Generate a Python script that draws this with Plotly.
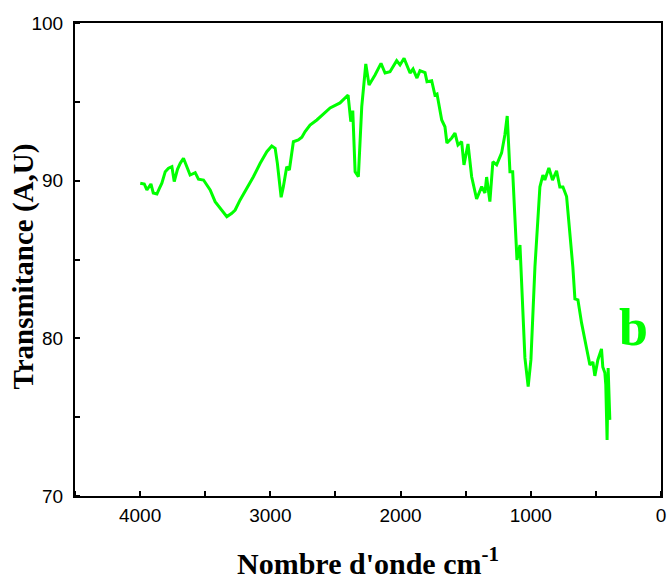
import plotly.graph_objects as go

wavenumber = [3999, 3968, 3948, 3917, 3899, 3871, 3851, 3833, 3807, 3782, 3756, 3738, 3713, 3692,
              3667, 3646, 3616, 3577, 3552, 3513, 3487, 3462, 3424, 3385, 3360, 3334, 3296, 3270,
              3232, 3180, 3130, 3078, 3027, 2989, 2963, 2946, 2930, 2917, 2900, 2874, 2854, 2835,
              2823, 2785, 2758, 2733, 2695, 2643, 2541, 2465, 2403, 2382, 2367, 2349, 2324, 2298,
              2267, 2242, 2196, 2150, 2119, 2081, 2030, 2004, 1973, 1927, 1904, 1874, 1851, 1812,
              1797, 1761, 1736, 1720, 1684, 1659, 1644, 1607, 1582, 1559, 1531, 1513, 1482, 1454,
              1416, 1377, 1352, 1339, 1314, 1291, 1262, 1224, 1199, 1181, 1160, 1139, 1106, 1083,
              1045, 1020, 999, 968, 930, 907, 892, 861, 833, 802, 777, 753, 725, 677, 661, 638,
              610, 572, 546, 523, 508, 485, 457, 447, 431, 424, 414, 406, 393]
transmittance = [89.84, 89.79, 89.41, 89.79, 89.22, 89.16, 89.52, 89.84, 90.57, 90.79, 90.89, 89.94,
                 90.72, 91.10, 91.42, 91.00, 90.36, 90.51, 90.09, 90.04, 89.73, 89.41, 88.67, 88.25,
                 87.93, 87.72, 87.93, 88.14, 88.78, 89.52, 90.25, 91.10, 91.84, 92.20, 92.05, 91.10,
                 89.62, 88.95, 89.62, 90.89, 90.68, 91.95, 92.47, 92.58, 92.75, 93.11, 93.53, 93.85,
                 94.61, 94.93, 95.43, 93.74, 94.44, 90.57, 90.25, 94.69, 97.40, 96.07, 96.70, 97.44,
                 96.83, 96.91, 97.61, 97.34, 97.76, 96.83, 97.08, 96.51, 96.98, 96.85, 96.28, 96.34,
                 95.43, 95.50, 93.85, 93.42, 92.39, 92.71, 93.02, 92.26, 92.47, 91.00, 92.33, 90.25,
                 88.84, 89.62, 89.22, 90.23, 88.67, 91.20, 91.00, 91.76, 92.90, 94.10, 90.57, 90.57,
                 84.97, 85.92, 78.76, 76.94, 78.63, 84.53, 89.60, 90.36, 90.04, 90.81, 90.04, 90.63,
                 89.60, 89.60, 88.99, 84.53, 82.50, 82.44, 80.98, 79.39, 78.31, 78.50, 77.62, 78.63,
                 79.33, 78.19, 77.81, 77.05, 73.56, 78.12, 74.83]

x_ticks = [4000, 3000, 2000, 1000, 0]
y_ticks = [70, 80, 90, 100]
sample_label = "b"
x_title = "Nombre d'onde cm<sup>-1</sup>"
y_title = "Transmitance (A,U)"

green = "rgb(0,255,0)"
serif = "Liberation Serif"
sans = "Liberation Sans"

fig = go.Figure()
fig.add_trace(go.Scatter(x=wavenumber, y=transmittance, mode="lines",
                         line=dict(color=green, width=3), showlegend=False,
                         hoverinfo="skip"))

fig.add_annotation(x=215, y=80.7, xref="x", yref="y", text="<b>" + sample_label + "</b>",
                   showarrow=False, font=dict(family=serif, size=52, color=green))

# y-axis title as a rotated annotation for precise placement
fig.add_annotation(x=-0.088, y=0.486, xref="paper", yref="paper",
                   xanchor="center", yanchor="middle", textangle=-90,
                   text="<b>" + y_title + "</b>", showarrow=False,
                   font=dict(family=serif, size=29, color="black"))

fig.update_layout(
    width=667, height=580,
    margin=dict(l=75, r=6, t=23, b=84),
    plot_bgcolor="white", paper_bgcolor="white",
    xaxis=dict(range=[4500, 0], tickvals=x_ticks, ticktext=[str(v) for v in x_ticks],
               ticks="", showgrid=False, zeroline=False, automargin=False,
               showline=True, linecolor="black", linewidth=2, mirror=True,
               minor=dict(ticks="inside", dtick=500, tick0=0, ticklen=5, tickwidth=1.5,
                          tickcolor="black", showgrid=False),
               tickfont=dict(family=sans, size=19, color="black"),
               ticklabelstandoff=1, ticklabeloverflow="allow",
               title=dict(text="<b>" + x_title + "</b>",
                          font=dict(family=serif, size=30, color="black"), standoff=34)),
    yaxis=dict(range=[70, 100], tickvals=y_ticks, ticktext=[str(v) for v in y_ticks],
               ticks="", showgrid=False, zeroline=False, automargin=False,
               showline=True, linecolor="black", linewidth=2, mirror=True,
               minor=dict(ticks="inside", dtick=5, tick0=0, ticklen=5, tickwidth=1.5,
                          tickcolor="black", showgrid=False),
               tickfont=dict(family=sans, size=19, color="black"),
               ticklabelstandoff=6, ticklabeloverflow="allow"),
)

fig.write_html("out.html", config={"displayModeBar": False},
               post_script="document.body.style.margin='0';document.body.style.overflow='hidden';")
